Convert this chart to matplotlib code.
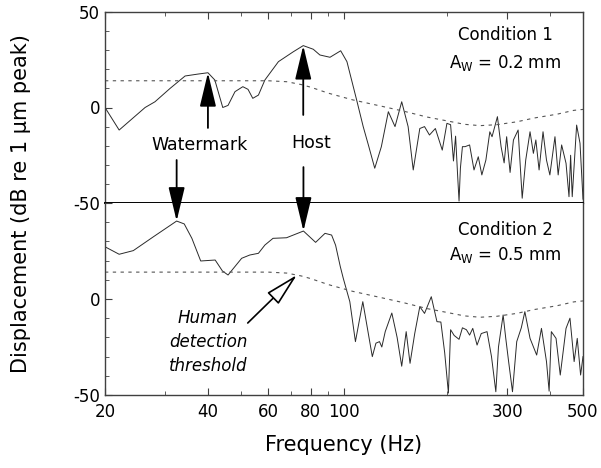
"""Two-panel displacement spectra (watermark vs host) with detection threshold."""

import matplotlib
matplotlib.use("Agg")
import matplotlib.pyplot as plt  # noqa: E402
from matplotlib.ticker import FixedLocator, NullFormatter  # noqa: E402

LINE_COLOR = "#2a2a2a"
DASH_COLOR = "#555555"
FRAME_COLOR = "#404040"

# Condition 1 (top panel)
freq1 = [20, 22, 26.2, 28, 31, 34.3, 37.4, 40, 41.9, 44.2,
         45.8, 48, 50.6, 52.4, 54.1, 56.2, 58.7, 64.3, 71.1, 76,
         81.3, 85, 91, 97.8, 102, 108.9, 113.8, 118, 123, 128.6,
         134.8, 141, 147.5, 154, 159.4, 166.6, 172, 177.8, 185, 193.8,
         200, 205, 209, 212, 215, 217, 219, 222,
         226, 233, 240, 247, 253, 260, 267, 271, 276, 281,
         288, 294, 299, 306, 313, 323, 332, 340, 350, 358,
         364, 372, 382, 391, 400, 414, 423, 433, 446, 455,
         460, 465, 479, 490, 500]
disp1 = [0, -11.8, 0, 3, 10, 16.5, 17.5, 18.2, 14.4, 0,
         1.1, 8.3, 10.9, 9.5, 4.8, 6.5, 14.4, 24, 29.2, 32.4,
         30.5, 27.5, 26.3, 29.7, 24, 3.9, -10, -20, -31.8, -20.5,
         -2.2, -10, 3, -10, -32.7, -11, -10, -14.4, -11, -22.3,
         -8.3, -9, -28, -15, -36, -49, -31.7, -20.5,
         -20.5, -19.6, -32.7, -25.8, -35.3, -27.5, -12.7, -15.3, -10, -4.8,
         -20.5, -29, -15.3, -34, -17, -11.8, -47.5, -27.5, -12.7, -24,
         -17, -32.7, -12.7, -27.5, -35.3, -15.3, -35.3, -19.6, -29.2, -46.7,
         -25, -46.7, -9.2, -18.7, -48]

# Condition 2 (bottom panel)
freq2 = [20, 22, 24.2, 27.7, 32.4, 34.1, 35.9, 38.1, 42, 44.1,
         45.8, 50.2, 53, 56.2, 58.7, 62, 67.9, 76.1, 82.6, 88,
         92, 94.5, 97.5, 99.5, 104, 108, 113.5, 121, 124, 127,
         129, 132, 138, 143, 147.5, 152, 156, 161, 166.6, 172,
         180, 187, 192, 197, 202, 205, 210, 217, 222, 228,
         233, 238, 245, 252, 262, 270, 278, 283, 292, 297,
         303, 311, 320, 330, 338, 350, 366, 378, 391, 398,
         404, 417, 429, 446, 458, 471, 481, 492, 500]
disp2 = [27.2, 23.3, 25.2, 32.4, 40.6, 39.1, 31.6, 19.8, 20.3, 14.6,
         12.5, 21.2, 22.9, 23.8, 28.1, 31.6, 31.9, 35.4, 29.5, 34.2,
         33.3, 28, 17, 10.8, -1.4, -22.2, -1.4, -30, -23, -22.2,
         -25, -17, -7.3, -20, -35, -17, -33.5, -18, -4, -7.5,
         1.2, -11.8, -12, -28, -49, -16, -19, -21, -15, -16,
         -18.8, -15.3, -24, -18, -17, -30, -48.3, -25, -8.3, -20,
         -32.6, -48.3, -22.2, -15, -6.6, -20.5, -29.2, -15.3, -32.6, -48,
         -17, -20.5, -39.6, -15.3, -10, -32.6, -20.5, -39.6, -30]

# Human detection threshold (same curve in both panels)
thr_freq = [20, 40, 60, 68, 75, 80, 90, 106, 130, 150,
            175, 200, 225, 250, 280, 320, 360, 420, 470, 500]
thr_disp = [14, 14, 14, 13.5, 12, 10.6, 7.5, 4, 0.5, -2,
            -5, -7, -8.8, -9.5, -9, -7.5, -5.5, -3.5, -1.5, -1]

major_x = [20, 40, 60, 80, 100, 300, 500]
major_x_labels = ["20", "40", "60", "80", "100", "300", "500"]
minor_x = [30, 50, 70, 90, 200, 400]

fig = plt.figure(figsize=(6.01, 4.68), dpi=100)
left, right = 105 / 601, 583 / 601
mid, top, bottom = 1 - 203 / 468, 1 - 12 / 468, 1 - 395 / 468
ax1 = fig.add_axes([left, mid, right - left, top - mid])
ax2 = fig.add_axes([left, bottom, right - left, mid - bottom])

for ax, f, d in ((ax1, freq1, disp1), (ax2, freq2, disp2)):
    ax.plot(f, d, color=LINE_COLOR, lw=0.7)
    ax.plot(thr_freq, thr_disp, color=DASH_COLOR, lw=0.8, dashes=(3, 4))
    ax.set_xscale("log")
    ax.set_xlim(20, 500)
    ax.set_ylim(-50, 50)
    ax.xaxis.set_major_locator(FixedLocator(major_x))
    ax.xaxis.set_minor_locator(FixedLocator(minor_x))
    ax.xaxis.set_minor_formatter(NullFormatter())
    ax.set_yticks([-50, 0, 50])
    ax.yaxis.set_minor_locator(FixedLocator(range(-40, 50, 10)))
    ax.tick_params(which="both", direction="in", labelsize=12, colors=FRAME_COLOR,
                   labelcolor="black", right=False)
    ax.tick_params(which="major", length=5)
    ax.tick_params(which="minor", length=3)
    for spine in ax.spines.values():
        spine.set_color(FRAME_COLOR)
        spine.set_linewidth(1.0)

# top panel: ticks on top edge only, no x labels
ax1.tick_params(axis="x", which="both", top=True, bottom=False, labelbottom=False)
ax1.spines["bottom"].set_color("black")
ax1.spines["bottom"].set_linewidth(1.4)
ax1.set_yticklabels(["-50", "0", "50"])

# bottom panel: x labels, hide the shared 50 label
ax2.set_xticklabels(major_x_labels)
ax2.tick_params(axis="x", which="both", top=False, pad=6)
ax2.set_yticklabels(["-50", "0", ""])
ax2.spines["top"].set_visible(False)
ax2.set_xlabel("Frequency (Hz)", fontsize=15, labelpad=10)
fig.text(0.035, (top + bottom) / 2, "Displacement (dB re 1 \u03bcm peak)",
         rotation=90, fontsize=15, ha="center", va="center")

# panel captions
ax1.text(0.837, 0.88, "Condition 1", transform=ax1.transAxes,
         fontsize=12, ha="center", va="center")
ax1.text(0.837, 0.733, r"A$_\mathregular{W}$ = 0.2 mm", transform=ax1.transAxes,
         fontsize=12, ha="center", va="center")
ax2.text(0.837, 0.86, "Condition 2", transform=ax2.transAxes,
         fontsize=12, ha="center", va="center")
ax2.text(0.837, 0.729, r"A$_\mathregular{W}$ = 0.5 mm", transform=ax2.transAxes,
         fontsize=12, ha="center", va="center")

head = "-|>,head_length=1.5,head_width=0.36"
solid = dict(arrowstyle=head, color="black", lw=1.3, shrinkA=0, shrinkB=0,
             mutation_scale=14)

# labels with arrows
ax1.text(37.9, -19.6, "Watermark", fontsize=12.5, ha="center", va="center")
ax1.text(80, -18.5, "Host", fontsize=12.5, ha="center", va="center")
ax1.annotate("", xy=(40, 18.2), xytext=(40, -10.7), arrowprops=solid)
ax1.annotate("", xy=(76, 32.4), xytext=(76, -3.9), arrowprops=solid)
ax2.annotate("", xy=(32.4, 40.6), xytext=(32.4, -27.5), textcoords=ax1.transData,
             arrowprops=solid, annotation_clip=False)
ax2.annotate("", xy=(76.1, 35.4), xytext=(76.1, -31.2), textcoords=ax1.transData,
             arrowprops=solid, annotation_clip=False)

ax2.text(40, -22.4, "Human\ndetection\nthreshold", fontsize=12, style="italic",
         ha="center", va="center", linespacing=1.45)
ax2.annotate("", xy=(72.8, 12.5), xytext=(52.3, -12.5),
             arrowprops=dict(arrowstyle=head, fc="white", ec="black", lw=1.2,
                             shrinkA=0, shrinkB=0, mutation_scale=14))

fig.savefig("out.png", dpi=100, facecolor="white")
plt.close(fig)
